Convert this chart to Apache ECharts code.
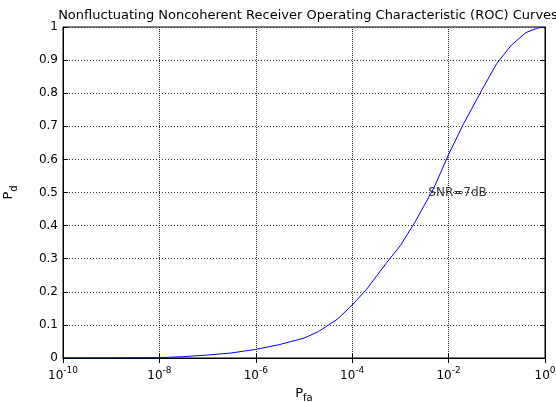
<!DOCTYPE html>
<html><head><meta charset="utf-8">
<script src="https://cdn.jsdelivr.net/npm/echarts@6/dist/echarts.min.js"></script>
<style>html,body{margin:0;padding:0;background:#fff}#c{width:556px;height:402px}</style>
</head><body><div id="c"></div>
<script>
const titleText = 'Nonfluctuating Noncoherent Receiver Operating Characteristic (ROC) Curves';
const pfa = [1e-10, 1e-9, 1e-8, 3e-8, 1e-7, 3e-7, 1e-6, 3e-6, 1e-5, 2e-5, 5e-5, 1e-4, 2e-4, 5e-4, 1e-3, 2e-3, 5e-3, 1e-2, 2e-2, 5e-2, 1e-1, 2e-1, 4e-1, 7e-1, 1];
const pd  = [0.0002, 0.0005, 0.001, 0.004, 0.009, 0.015, 0.026, 0.040, 0.060, 0.080, 0.118, 0.160, 0.208, 0.285, 0.340, 0.410, 0.515, 0.615, 0.705, 0.812, 0.890, 0.945, 0.983, 0.997, 1.0];
const annotation = { pfa: 3.8e-3, pd: 0.5, text: 'SNR=7dB' };

const font = 'DejaVu Sans, sans-serif';
const chart = echarts.init(document.getElementById('c'), null, {renderer: 'canvas'});
const gridDash = {color: '#333', width: 1, type: [1, 2]};
chart.setOption({
  animation: false,
  backgroundColor: '#fff',
  title: {
    text: titleText, left: 303, top: 4, textAlign: 'center',
    textStyle: {fontFamily: font, fontSize: 13, fontWeight: 'normal', color: '#000'}
  },
  grid: {left: 63, right: 11, top: 27, bottom: 44, containLabel: false, outerBoundsMode: 'none',
    show: true, borderColor: '#000', borderWidth: 1},
  xAxis: [{
    type: 'log', logBase: 10, min: 1e-10, max: 1, interval: 2,
    name: '{m|P}{s|fa}', nameLocation: 'middle', nameGap: 24,
    nameTextStyle: {rich: {
      m: {fontFamily: font, fontSize: 13, color: '#000'},
      s: {fontFamily: font, fontSize: 10, color: '#000', padding: [11, 0, 0, 0]}
    }},
    axisLine: {show: true, lineStyle: {color: '#000'}},
    axisTick: {show: true, inside: true, length: 5, lineStyle: {color: '#000'}},
    splitLine: {show: true, lineStyle: {color: '#222', width: 1, type: [1, 1]}},
    axisLabel: {
      margin: 8, hideOverlap: false,
      formatter: function (v) {
        const e = Math.round(Math.log10(v));
        return '{b|10}{s|' + e + '}';
      },
      rich: {
        b: {fontFamily: font, fontSize: 12, color: '#000', padding: [4, 0, 0, 0]},
        s: {fontFamily: font, fontSize: 9, color: '#000', padding: [0, 0, 6, 0]}
      }
    }
  }, {
    type: 'log', logBase: 10, min: 1e-10, max: 1, interval: 2, position: 'top',
    axisLine: {show: true, lineStyle: {color: '#000'}},
    axisTick: {show: true, inside: true, length: 5, lineStyle: {color: '#000'}},
    axisLabel: {show: false}, splitLine: {show: false}
  }],
  yAxis: [{
    type: 'value', min: 0, max: 1, interval: 0.1,
    name: '{m|P}{s|d}', nameLocation: 'middle', nameGap: 44, nameRotate: 90,
    nameTextStyle: {rich: {
      m: {fontFamily: font, fontSize: 13, color: '#000'},
      s: {fontFamily: font, fontSize: 10, color: '#000', padding: [11, 0, 0, 0]}
    }},
    axisLine: {show: true, lineStyle: {color: '#000'}},
    axisTick: {show: true, inside: true, length: 5, lineStyle: {color: '#000'}},
    splitLine: {show: true, lineStyle: gridDash},
    axisLabel: {margin: 5, fontFamily: font, fontSize: 12, color: '#000',
      formatter: v => String(Math.round(v * 10) / 10)}
  }, {
    type: 'value', min: 0, max: 1, interval: 0.1, position: 'right',
    axisLine: {show: true, lineStyle: {color: '#000'}},
    axisTick: {show: true, inside: true, length: 5, lineStyle: {color: '#000'}},
    axisLabel: {show: false}, splitLine: {show: false}
  }],
  series: [{
    type: 'line', data: pfa.map((x, i) => [x, pd[i]]),
    showSymbol: false, symbol: 'none', smooth: false, clip: true,
    lineStyle: {color: '#0000ff', width: 1}
  }, {
    type: 'scatter', data: [[annotation.pfa, annotation.pd]], symbolSize: 0.01,
    label: {show: true, position: 'right', distance: 0, formatter: annotation.text,
      fontFamily: font, fontSize: 12, color: '#000'}
  }]
});
</script></body></html>
